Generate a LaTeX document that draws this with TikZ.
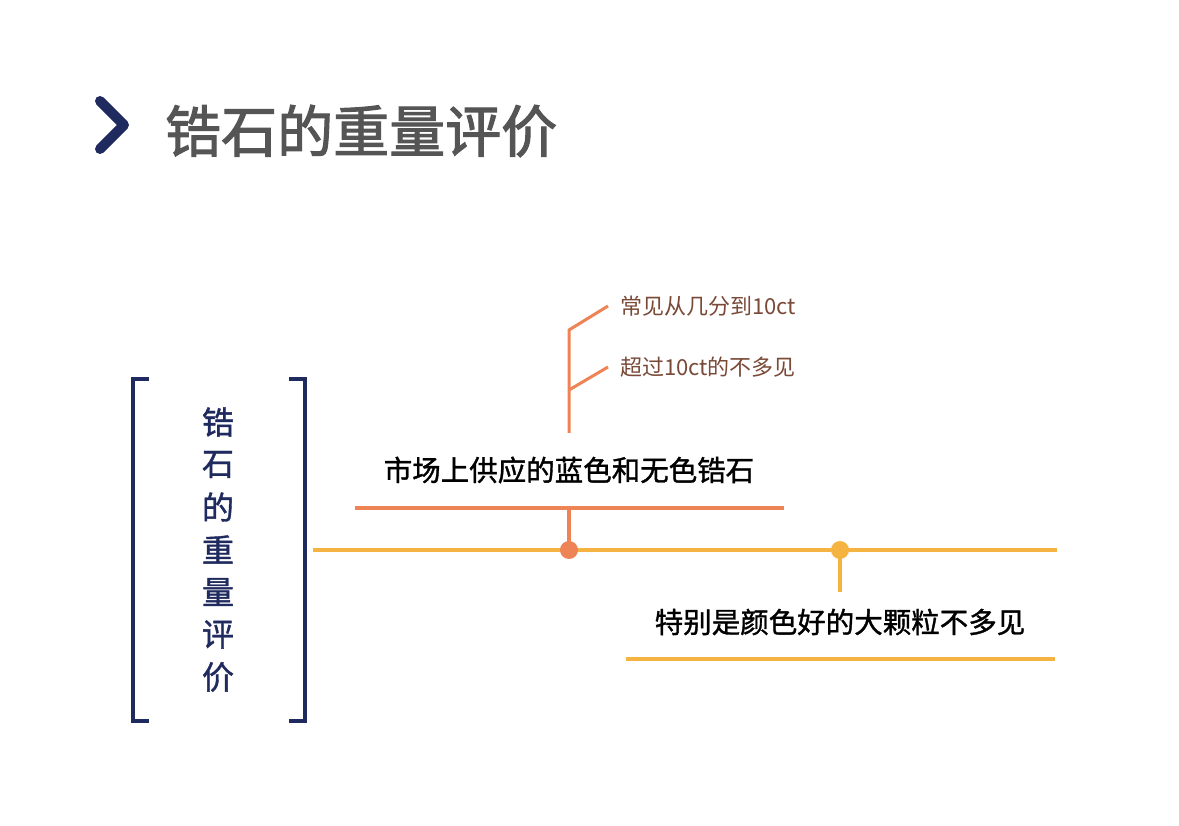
\documentclass[tikz,border=0pt]{standalone}
\usepackage{fontspec}
\newfontfamily\cjk{Noto Sans CJK SC}
\newfontfamily\cjkm[FakeBold=1.2]{Noto Sans CJK SC}
\newfontfamily\cjkt[FakeBold=2]{Noto Sans CJK SC}
\definecolor{navy}{HTML}{1F2A5E}
\definecolor{org}{HTML}{EE8355}
\definecolor{yel}{HTML}{F5B342}
\definecolor{brn}{HTML}{7A4A38}
\definecolor{gry}{HTML}{555555}
\begin{document}
\begin{tikzpicture}[x=1pt,y=-1pt,
  lbl/.style={inner sep=0pt,font=\cjkm\fontsize{28.5}{28.5}\selectfont,text=black},
  sm/.style={inner sep=0pt,anchor=west,font=\cjk\fontsize{22}{22}\selectfont,text=brn},
  vt/.style={inner sep=0pt,font=\cjkm\fontsize{32}{32}\selectfont,text=navy}]
\useasboundingbox[fill=white] (0,0) rectangle (1179,826);
\draw[navy,line width=10pt,line cap=round,line join=round] (100,101) -- (124,125) -- (100,149);
\node[inner sep=0pt,anchor=west,font=\cjkt\fontsize{56}{56}\selectfont,text=gry] (title) at (165,131) {锆石的重量评价};
\draw[navy,line width=4pt] (149,379) -- (133,379) -- (133,721) -- (149,721);
\draw[navy,line width=4pt] (289,379) -- (305,379) -- (305,721) -- (289,721);
\foreach \c [count=\i from 0] in {锆,石,的,重,量,评,价}
  \node[vt] (v\i) at (218,422+\i*42.5) {\c};
\coordinate (ml) at (313,550); \coordinate (mr) at (1057,550);
\draw[yel,line width=4pt] (ml) -- (mr);
\coordinate (d1) at (569,550); \coordinate (d2) at (840,550);
\coordinate (t1) at (569,508); \coordinate (t2) at (840,592);
\draw[org,line width=3.5pt] (d1) -- (t1);
\draw[yel,line width=3.5pt] (d2) -- (t2);
\fill[org] (d1) circle (9);
\fill[yel] (d2) circle (9);
\coordinate (o1) at (355,508); \coordinate (o2) at (784,508);
\draw[org,line width=4pt] (o1) -- (o2);
\node[lbl] (a) at (569,470) {市场上供应的蓝色和无色锆石};
\coordinate (y1) at (626,659); \coordinate (y2) at (1055,659);
\draw[yel,line width=4pt] (y1) -- (y2);
\node[lbl] (b) at (840,622) {特别是颜色好的大颗粒不多见};
\coordinate (s0) at (569,433); \coordinate (s1) at (569,330); \coordinate (s2) at (569,390);
\node[sm] (n1) at (620,306) {常见从几分到10ct};
\node[sm] (n2) at (620,367) {超过10ct的不多见};
\draw[org,line width=3pt] (s0) -- (s1) -- (608,306);
\draw[org,line width=3pt] (s2) -- (608,367);
\end{tikzpicture}
\end{document}
